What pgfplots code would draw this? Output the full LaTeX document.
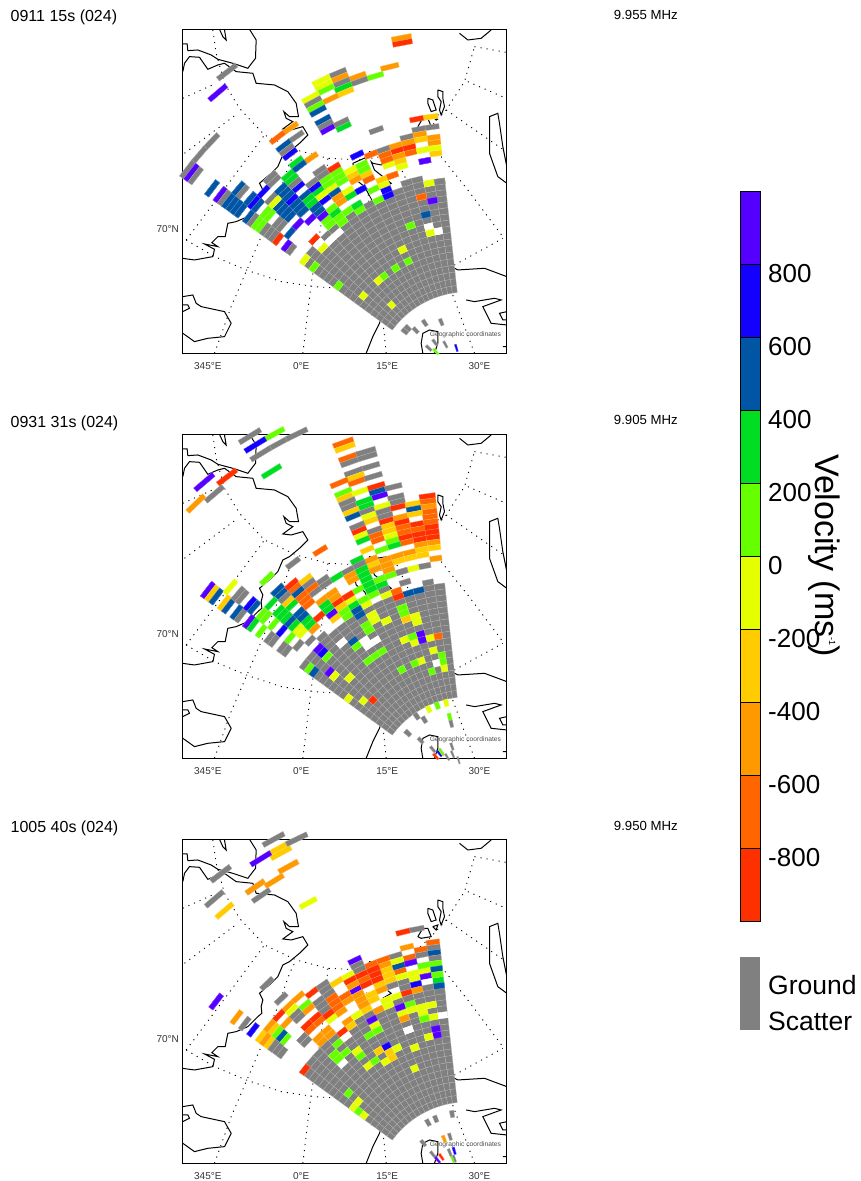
\documentclass[border=0pt]{standalone}
\usepackage{fontspec}
\setmainfont{Liberation Sans}
\usepackage{pgfplots}
\usepackage{pgfplotstable}
\pgfplotsset{compat=1.18}
\pgfdeclareplotmark{cell}{%
  \pgftransformshift{\pgfpoint{\celldx pt}{\celldy pt}}%
  \pgftransformrotate{\cellang}%
  \pgfsetlinewidth{0.25pt}%
  \pgfpathmoveto{\pgfpoint{-\cellwa pt}{-\cellh pt}}%
  \pgfpathlineto{\pgfpoint{\cellwa pt}{-\cellh pt}}%
  \pgfpathlineto{\pgfpoint{\cellwb pt}{\cellh pt}}%
  \pgfpathlineto{\pgfpoint{-\cellwb pt}{\cellh pt}}%
  \pgfpathclose
  \pgfusepath{fill,stroke}}
\pgfplotsset{
  colormap={sd}{rgb255=(255,48,0) rgb255=(255,102,0) rgb255=(255,153,0) rgb255=(255,204,0)
    rgb255=(229,255,0) rgb255=(102,255,0) rgb255=(0,221,34) rgb255=(0,85,165)
    rgb255=(20,0,255) rgb255=(85,0,255) rgb255=(128,128,128) rgb255=(255,255,255)},
  cells/.style={scatter, only marks, mark=cell, point meta={\thisrow{v}},
    point meta min=-9, point meta max=13,
    visualization depends on={x \as \cx},
    visualization depends on={y \as \cy},
    scatter/use mapped color={fill=mapped color, draw=mapped color!60!white},
    scatter/@pre marker code/.append code={%
      \pgfmathsetmacro\Rr{veclen(879-\cx,1095-\cy)}%
      \pgfmathsetmacro\Th{atan2(879-\cx,1095-\cy)}%
      \pgfmathsetmacro\Gi{ifthenelse(\Rr<781,floor((21-sqrt(441-0.4*(\Rr-279)))/0.2),floor(27.5+(\Rr-781)/15.5))+0.5}%
      \pgfmathsetmacro\Rc{ifthenelse(\Gi<27.5,279+21*\Gi-0.1*\Gi*\Gi,781+15.5*(\Gi-27.5))}%
      \pgfmathsetmacro\cellang{53.9-2.975*(round((53.9-\Th)/2.975-0.5)+0.5)}%
      \pgfmathsetmacro\celldx{(879-\Rc*sin(\cellang)-\cx)/3}%
      \pgfmathsetmacro\celldy{(\cy-1095+\Rc*cos(\cellang))/3}%
      \pgfmathsetmacro\cellh{max(21-0.2*\Gi,15.5)/6}%
      \pgfmathsetmacro\wf{0.02596*(1+max(\Rc-700,0)/3500)}%
      \pgfmathsetmacro\cellwa{\wf*(\Rc-3*\cellh)/3}%
      \pgfmathsetmacro\cellwb{\wf*(\Rc+3*\cellh)/3}}},
  plain/.style={point meta=none, scatter=false, no marks, sharp plot},
  band/.style={plain, draw=black, line width=0.8pt},
  panel/.style={scale only axis, width=324pt, height=324pt, anchor=south west,
    xmin=24, xmax=996, ymin=28, ymax=1000, y dir=reverse,
    xtick={100,380,638,915}, xticklabels={345°E,0°E,15°E,30°E},
    ytick={624}, yticklabels={70°N}, major tick length=0pt,
    tick label style={font=\fontsize{10}{11}\selectfont, text=black!80},
    xticklabel style={yshift=-6pt}, yticklabel style={yshift=-1pt},
    axis line style={line width=0.9pt, black}, unbounded coords=jump},
}
\pgfplotstableread{
g v
0 11
1 11
2 11
3 11
4 11
5 11
6 11
7 11
8 11
9 11
10 11
11 11
12 11
13 11
14 11
15 11
16 11
17 11
}\gates
\pgfplotstableread{
x y
25 72
38 72
40 92
70 90
110 105
130 118
175 130
220 145
243 115
245 60
225 28
nan nan
25 155
30 130
45 110
75 112
100 148
130 135
150 130
185 155
235 160
245 190
300 195
340 215
365 250
372 290
345 290
328 275
335 295
355 305
325 327
350 330
385 320
400 345
375 370
345 395
325 405
310 440
290 460
255 490
265 510
260 530
262 550
250 560
220 590
185 605
160 610
152 650
130 650
112 668
130 680
90 672
120 688
115 710
60 720
23 715
nan nan
135 28
145 50
155 60
150 30
nan nan
855 40
880 60
920 55
950 30
nan nan
997 440
985 380
975 310
970 280
945 290
945 350
945 400
970 470
997 490
nan nan
760 235
775 240
785 270
770 275
760 250
760 235
nan nan
790 210
805 215
805 235
810 260
800 285
795 270
800 245
790 230
790 210
nan nan
775 290
790 285
785 300
775 290
nan nan
730 320
745 295
760 295
770 320
740 325
730 320
nan nan
535 430
580 410
585 395
605 400
640 395
640 420
620 435
595 430
590 425
600 450
625 470
650 490
625 505
640 520
620 530
595 545
570 500
545 480
535 430
nan nan
25 830
55 825
65 850
80 860
150 875
170 910
150 950
100 955
60 965
25 940
nan nan
25 855
40 855
45 865
25 875
nan nan
590 885
630 855
605 855
625 830
645 825
655 790
695 760
710 745
730 745
740 725
755 735
770 720
810 720
800 745
830 740
850 750
930 745
997 770
nan nan
630 860
615 910
595 950
575 1000
nan nan
875 840
900 845
960 835
980 840
925 860
950 910
997 915
nan nan
997 875
975 880
985 900
997 900
nan nan
745 1000
740 970
745 940
765 930
790 935
790 970
780 1000
nan nan
985 980
997 980
}\coast
\pgfplotstableread{
x y
115 30
125 100
150 190
195 265
270 345
365 390
460 415
560 420
650 405
700 385
770 320
815 270
870 185
900 80
nan nan
35 660
120 710
215 750
320 785
420 800
520 807
620 795
720 770
840 735
985 655
nan nan
25 235
125 190
nan nan
30 400
190 280
nan nan
35 660
155 500
270 345
nan nan
120 1000
170 860
260 650
310 530
345 430
365 390
nan nan
385 1000
410 790
430 680
450 540
460 415
nan nan
635 1000
625 900
590 640
580 510
565 420
nan nan
900 1000
840 840
770 640
710 510
660 405
nan nan
800 410
880 510
985 650
nan nan
815 270
995 395
nan nan
880 185
995 235
nan nan
900 80
995 97
}\grat
% ---------- panel 1
\pgfplotstableread{
x y v
685 48 -5
687 62 -9
647 136 -5
600 162 1
548 168 -5
552 182 11
487 155 11
490 172 -5
493 187 11
503 200 3
440 182 -1
445 197 -1
450 212 1
508 213 -3
463 233 -5
405 228 -1
415 243 11
422 258 1
428 272 5
445 297 5
450 312 11
458 327 9
503 305 11
505 320 3
605 330 11
345 322 -5
305 350 -7
368 350 11
325 375 5
330 392 11
345 402 7
365 427 3
372 438 5
405 412 -5
340 465 3
350 478 11
358 490 5
335 505 5
290 475 11
155 163 11
120 217 9
105 365 11
70 402 11
27 452 11
42 462 9
58 478 11
110 505 5
190 505 5
205 510 11
547 405 7
475 442 -9
440 455 11
430 475 11
740 332 11
775 322 11
727 298 -9
765 292 -3
697 352 11
738 350 -5
775 345 -5
778 368 -5
780 385 -1
742 365 -3
742 385 -3
703 362 -5
705 382 -9
708 398 -7
665 380 -5
672 397 -9
676 412 -5
680 425 -3
632 390 11
640 415 -9
640 435 -1
600 407 -7
625 405 -3
650 463 -7
750 422 9
690 485 11
730 475 11
730 492 11
762 483 -1
795 478 11
}\Pau
\pgfplotstableread{
x y v
60 10 7
35 10 11
122 22 -5
75 40 3
90 50 5
55 75 3
65 90 11
25 125 5
45 140 5
30 165 5
50 180 5
40 200 5
70 170 5
85 190 5
95 145 5
110 165 3
125 180 5
75 125 7
190 52 -9
160 65 11
200 70 1
180 100 1
210 90 1
235 65 -1
265 50 1
240 75 -3
260 90 -3
295 78 -3
300 95 -7
325 90 -3
345 100 -1
365 72 -7
390 45 -1
400 22 -5
360 20 -7
330 15 -7
305 15 -7
260 15 7
465 32 9
495 5 -3
455 5 -1
410 95 11
445 100 11
477 93 -1
510 88 11
455 147 -7
488 155 9
467 193 5
420 222 1
475 225 13
505 235 13
483 255 -1
400 302 -1
412 330 1
375 350 1
340 375 1
325 385 -1
352 128 7
330 158 1
325 140 13
265 118 7
240 132 3
255 160 3
225 180 1
200 195 3
200 140 -7
210 153 -5
190 128 5
182 112 -1
165 125 5
150 125 3
135 112 7
125 145 3
180 172 1
185 220 1
210 218 1
240 190 1
275 170 1
205 255 13
180 265 13
160 280 13
150 297 -1
100 325 -1
140 275 -9
140 355 1
100 160 7
120 207 9
85 222 9
50 285 9
25 265 -9
60 295 11
15 245 11
0 160 -1
65 150 7
160 170 9
145 190 5
}\Pam
\pgfplotstableread{
x y v
740 27 -7
772 37 9
752 73 5
705 103 1
762 102 13
790 115 13
767 135 -1
683 180 -1
698 210 1
660 232 1
625 255 1
607 270 -1
487 285 1
563 317 -1
650 345 -1
450 178 -1
425 155 -9
385 205 -1
425 235 1
700 407 11
683 425 11
750 403 11
720 425 11
800 408 11
760 475 11
790 465 11
815 470 11
845 475 7
785 483 1
100 10 5
125 25 9
145 15 11
165 40 5
185 55 5
150 35 11
200 70 5
230 55 5
215 30 7
195 10 11
175 5 5
245 25 7
280 75 1
255 100 1
240 115 1
300 40 -1
270 60 11
240 90 11
325 70 5
345 90 5
370 70 5
385 55 5
400 35 3
420 55 5
350 30 7
370 100 9
405 90 9
440 75 9
345 125 5
310 150 -9
337 168 9
350 180 11
285 130 11
300 150 11
320 95 11
425 10 3
450 30 7
465 0 -1
490 20 -7
495 30 -5
527 15 3
545 40 3
480 55 1
515 60 1
485 75 3
510 95 1
465 110 1
490 125 11
470 85 1
455 70 3
445 85 1
600 5 1
615 37 1
637 10 7
}\Pal
\pgfplotstableread{
x y v
47 88 5
80 95 11
68 115 9
87 125 11
125 90 5
145 100 11
110 115 5
130 125 5
150 135 5
165 118 7
185 105 5
210 92 7
100 140 5
120 145 5
140 160 5
155 180 5
170 150 5
180 140 7
205 125 5
225 110 11
190 170 11
225 135 1
210 160 1
190 195 1
205 180 1
237 130 -1
215 205 1
210 215 11
240 230 11
235 195 11
255 195 11
252 240 -9
275 257 9
288 268 11
285 220 5
310 190 9
345 178 9
380 165 9
260 90 5
275 105 5
290 120 7
310 130 5
265 150 5
280 165 5
300 150 5
320 160 5
335 145 5
350 130 3
365 150 5
370 110 3
360 80 7
385 120 7
420 108 5
392 90 -1
420 65 1
430 122 -5
410 145 1
425 165 3
440 175 1
410 195 1
445 190 1
465 150 1
480 130 3
465 105 3
450 155 1
420 25 -9
400 45 1
435 45 1
430 70 1
375 35 11
345 65 11
380 55 11
455 35 -1
310 20 5
290 50 3
295 65 11
255 55 11
230 50 11
365 245 -9
390 268 -1
325 295 -1
365 320 1
435 225 13
410 240 13
385 250 13
495 85 7
480 60 -5
465 85 -1
520 15 1
500 30 1
}\Pax
% ---------- panel 2
\pgfplotstableread{
x y v
225 40 11
300 35 1
243 65 7
310 50 11
365 35 11
255 85 11
285 135 3
505 47 -7
510 63 -3
523 92 -7
575 75 11
530 107 11
578 88 11
585 120 11
535 135 11
543 155 -3
550 165 -7
597 150 11
490 170 -7
505 200 1
510 215 -3
560 195 -1
605 182 -9
612 197 5
615 212 9
658 183 11
665 215 11
670 230 11
517 235 11
520 243 11
567 225 3
572 240 3
530 262 -3
535 275 5
580 257 11
585 272 -1
590 287 -3
625 245 -1
630 260 11
635 272 11
637 288 -9
640 303 -3
670 245 -9
717 237 -3
720 252 5
760 217 -9
763 235 -7
765 250 -5
766 265 -7
680 275 -5
722 270 -3
685 292 -9
725 290 -9
768 282 -7
770 298 -7
545 303 11
552 318 -9
557 335 -1
565 347 3
600 317 11
605 335 -7
610 352 -7
645 318 -3
648 335 -1
652 350 1
690 310 -7
692 327 -7
695 343 -9
730 310 -7
732 327 -9
735 340 -9
772 312 -9
774 327 -9
776 340 -9
778 355 -5
735 358 -5
700 358 -7
660 368 3
615 375 1
575 375 -3
780 372 -3
783 393 -5
740 378 -3
745 395 -3
702 380 -5
707 400 -3
665 390 -5
668 408 -3
715 425 -1
680 440 11
750 422 11
630 400 -5
630 425 -3
640 450 -1
590 415 -3
600 400 -5
545 405 3
550 425 5
565 440 3
570 460 3
590 440 3
610 460 5
620 465 11
545 422 11
515 437 11
485 458 3
520 455 1
530 475 -5
435 378 -7
352 413 11
275 463 1
760 470 11
730 490 5
695 465 11
665 503 -7
700 510 5
765 500 11
590 480 1
560 490 1
610 490 3
640 495 11
445 465 11
395 465 -3
400 480 11
350 475 -9
355 490 -7
415 490 -7
330 500 5
370 500 5
310 495 11
290 505 11
425 500 11
470 500 -7
97 490 9
110 500 -3
130 505 5
160 488 -1
192 500 11
85 180 9
157 165 -9
110 205 11
62 248 -5
}\Pbu
\pgfplotstableread{
x y v
90 5 9
100 15 -3
125 15 5
145 30 -3
165 40 5
185 55 5
170 15 11
190 10 13
225 25 9
240 35 5
205 60 11
220 85 9
235 95 3
260 105 1
265 65 1
285 30 3
300 15 13
275 75 11
300 95 1
320 105 7
345 125 1
330 75 3
345 55 3
350 35 3
365 60 5
380 55 5
395 80 3
375 100 -1
415 100 -5
435 70 -9
460 40 3
470 55 9
490 60 -3
455 25 -5
510 60 1
525 25 -1
550 55 5
400 15 -7
390 5 -7
420 20 -7
490 20 -9
500 35 -7
475 10 -5
535 25 3
575 25 -1
600 5 -1
597 65 -1
600 80 1
635 80 -1
578 100 1
680 35 1
690 75 13
695 72 -3
720 65 -5
725 80 -1
688 128 -1
715 135 -1
740 125 -1
735 112 9
743 142 9
767 135 -9
765 120 -1
790 115 -7
775 168 -1
800 180 1
803 195 1
782 197 13
738 195 -1
715 203 1
678 220 1
775 220 1
800 215 -1
627 177 1
585 205 1
545 153 1
535 140 5
505 148 13
570 160 13
595 140 13
437 167 9
460 190 1
465 233 9
478 243 -1
520 245 -1
398 215 1
410 228 5
527 315 -1
563 317 -1
590 312 -9
368 150 11
340 170 11
315 155 11
300 140 11
385 205 11
410 140 11
445 125 11
757 345 -1
785 330 1
810 322 -1
725 365 11
752 375 11
695 405 11
703 425 11
740 432 11
775 465 11
828 368 1
832 385 11
833 450 11
800 465 5
795 470 7
800 475 -9
785 490 -9
808 478 1
815 480 11
840 487 11
850 485 11
}\Pbl
\pgfplotstableread{
x y v
33 95 9
50 105 -3
65 120 5
85 130 -3
100 145 5
120 160 5
107 85 -1
130 100 11
150 115 11
135 165 11
165 130 7
180 140 5
165 150 5
160 190 9
175 200 3
190 225 1
205 175 1
215 60 1
228 135 3
240 195 1
255 210 1
260 215 7
285 235 1
310 255 11
315 215 -1
270 185 3
250 165 3
265 165 3
285 150 3
300 130 3
310 165 5
325 165 5
340 190 3
355 205 -5
290 185 5
300 195 3
275 125 -3
250 95 5
265 110 11
290 75 -9
310 100 5
325 115 -7
340 130 -7
335 60 -3
350 85 -7
385 125 -5
370 170 -9
395 135 3
410 160 9
395 150 3
430 130 -9
415 105 -5
435 105 -5
455 120 -5
465 110 -9
425 55 3
460 45 -5
395 75 11
355 70 11
450 140 -3
455 160 1
495 125 -1
490 155 5
420 95 -5
510 120 1
550 105 1
575 105 -1
607 105 -9
622 135 1
620 155 1
635 180 -3
660 170 -1
505 200 1
525 215 1
540 170 -1
535 185 -1
575 185 -1
475 245 5
490 260 1
380 272 7
403 295 1
535 282 1
525 310 1
625 232 -1
650 240 1
620 325 1
345 322 1
350 335 5
405 340 9
420 345 -1
460 350 -1
445 255 13
510 250 13
215 235 11
235 250 11
255 265 11
275 280 11
290 10 11
505 50 3
520 70 3
525 90 3
490 30 3
540 60 5
550 75 3
570 30 -5
590 10 -5
545 20 -5
570 60 1
600 35 1
625 35 11
}\Pbx
% ---------- panel 3
\pgfplotstableread{
x y v
298 35 11
308 55 -3
315 70 -3
365 35 11
258 95 9
130 135 11
120 150 11
240 170 11
235 185 -5
250 198 11
345 110 -5
320 125 -5
280 155 -5
108 207 11
140 243 -3
397 217 -1
685 310 -9
727 300 11
777 340 -7
697 355 -5
740 362 -7
778 355 11
703 382 -7
745 380 11
790 372 5
790 388 11
790 403 1
790 420 3
790 435 1
790 450 3
790 465 5
790 480 11
790 495 11
750 408 3
750 425 -1
750 440 9
750 457 -1
750 470 9
750 487 11
715 400 9
715 425 -1
715 440 -1
715 460 7
715 475 -5
715 490 11
715 505 -1
680 395 -1
680 408 5
680 425 -7
680 440 1
680 460 11
680 485 -9
680 497 -1
665 378 11
640 385 -7
640 405 -5
640 425 -3
640 445 -3
640 465 13
640 480 -1
640 505 -1
600 395 -7
600 420 -9
600 440 -9
600 470 -3
600 490 -1
540 393 9
545 407 11
560 420 11
560 435 -9
560 450 -9
560 460 -7
560 475 9
560 490 11
525 460 -9
525 475 -7
525 500 -3
490 455 -3
510 440 -1
445 475 11
455 490 11
410 490 -9
370 500 -5
320 503 11
275 465 11
128 505 9
480 505 -7
}\Pcu
\pgfplotstableread{
x y v
118 15 9
185 57 -5
210 75 11
233 95 7
310 3 11
355 10 -5
390 15 1
430 8 11
405 35 -5
350 32 -1
367 40 13
312 50 -9
335 65 -5
285 80 -1
300 93 -5
260 125 -1
275 135 -3
320 100 1
315 110 1
320 117 5
335 122 1
350 135 13
300 145 11
325 165 11
395 125 11
380 105 13
365 70 11
375 50 11
395 75 -9
420 55 -9
410 85 -7
455 45 -9
450 105 -5
430 125 -5
470 55 -1
490 70 13
460 20 11
480 15 -5
500 30 -5
515 60 -5
527 78 -3
545 45 -3
575 35 -5
520 10 -5
550 15 -9
600 30 -5
590 5 -3
595 65 9
600 80 -1
605 95 1
585 105 1
505 105 -9
515 118 13
495 135 1
480 155 1
475 170 1
515 160 -1
503 192 13
555 167 1
580 200 -1
597 178 1
610 155 -1
633 137 7
640 155 -3
650 170 -3
630 185 -1
665 150 1
715 135 -1
717 205 -1
700 90 13
690 60 -5
680 45 -1
710 20 1
705 35 -1
745 30 -1
750 60 1
775 52 -1
672 15 9
635 10 -1
768 7 -1
780 85 9
785 100 9
760 105 -1
385 207 -9
515 275 1
550 310 -1
540 325 -1
550 337 1
565 345 -1
755 370 11
783 367 11
825 335 11
820 405 11
815 425 -5
740 430 11
780 465 11
800 465 -9
790 478 9
828 470 1
840 460 7
845 485 11
820 450 11
830 460 11
}\Pcl
\pgfplotstableread{
x y v
15 215 7
35 240 -3
50 225 -3
65 205 -3
85 170 -9
75 190 -5
100 190 -5
60 230 -5
90 225 1
75 220 1
95 235 5
110 235 1
125 170 11
130 150 -1
150 115 -5
165 135 1
180 155 -5
175 190 -9
195 170 -9
205 185 -7
185 110 -9
215 90 11
240 70 11
260 65 -3
245 125 -7
265 145 -7
245 180 -1
235 165 -9
215 140 11
155 245 11
90 270 11
100 285 11
70 255 11
125 250 13
150 215 13
240 230 -5
215 245 -5
285 225 -9
290 240 13
240 260 11
250 280 1
260 290 1
280 110 -7
300 100 -7
265 125 -7
285 145 -5
300 65 -9
320 75 -5
335 95 -5
300 125 -5
320 160 -3
340 150 -3
355 135 -5
340 125 -5
355 100 -3
325 45 -1
355 40 -9
370 35 -9
385 55 -9
365 65 -9
385 90 -5
405 130 -1
420 125 -1
420 40 -3
440 20 -3
455 45 -1
450 20 5
445 5 -1
480 10 9
490 35 -1
470 95 -9
445 135 9
480 135 1
520 20 1
565 30 5
530 50 9
570 45 1
530 65 13
495 70 7
565 75 5
500 90 -5
465 55 -1
510 148 -1
480 155 -1
465 180 -5
520 180 1
545 130 -1
555 205 9
557 218 9
535 225 -1
580 170 13
475 208 13
370 185 9
380 205 -1
385 220 1
407 258 7
400 270 -3
420 280 -3
440 262 1
435 270 -1
490 255 -1
315 285 -1
285 275 1
330 165 -1
255 300 1
440 70 11
465 75 11
520 85 11
545 90 11
490 115 11
}\Pcx
\newcommand{\basefan}{%
  \pgfplotsinvokeforeach{0,1,...,15}{%
    \addplot[cells] table[x expr={879-(279+21*(\thisrow{g}+0.5)-0.1*(\thisrow{g}+0.5)*(\thisrow{g}+0.5))*sin(53.9-2.975*(##1+0.5))},
      y expr={1095-(279+21*(\thisrow{g}+0.5)-0.1*(\thisrow{g}+0.5)*(\thisrow{g}+0.5))*cos(53.9-2.975*(##1+0.5))}] {\gates};
  }}
\newcommand{\mapover}{%
  \addplot[plain, black, dash pattern=on 1.1pt off 5pt, line width=0.9pt] table[x=x,y=y] {\grat};
  \addplot[plain, black, line width=1pt] table[x=x,y=y] {\coast};}
\newcommand{\geo}{\node[anchor=east, font=\fontsize{6.7}{7}\selectfont, text=black!70] at (axis cs:990,943) {Geographic coordinates};}
\begin{document}
\begin{tikzpicture}[x=1pt,y=1pt]
\path[use as bounding box] (0,0) rectangle (860,1181);
% panel 1
\begin{axis}[panel, at={(182.5pt,827.7pt)}]
\basefan
\addplot[cells] table[x=x, y=y] {\Pau};
\addplot[cells] table[x expr={\thisrow{x}+285}, y expr={\thisrow{y}+390}] {\Pam};
\addplot[cells] table[x=x, y expr={\thisrow{y}+510}] {\Pal};
\addplot[cells] table[x expr={\thisrow{x}+60}, y expr={\thisrow{y}+420}] {\Pax};
\mapover
\geo
\end{axis}
% panel 2
\begin{axis}[panel, at={(182.5pt,422.7pt)}]
\basefan
\addplot[cells] table[x=x, y=y] {\Pbu};
\addplot[cells] table[x=x, y expr={\thisrow{y}+510}] {\Pbl};
\addplot[cells] table[x expr={\thisrow{x}+60}, y expr={\thisrow{y}+405}] {\Pbx};
\mapover
\geo
\end{axis}
% panel 3
\begin{axis}[panel, at={(182.5pt,17.7pt)}]
\basefan
\addplot[cells] table[x=x, y=y] {\Pcu};
\addplot[cells] table[x=x, y expr={\thisrow{y}+510}] {\Pcl};
\addplot[cells] table[x expr={\thisrow{x}+225}, y expr={\thisrow{y}+390}] {\Pcx};
\mapover
\geo
\end{axis}
% colour bar
\begin{axis}[scale only axis, width=20pt, height=839pt, anchor=south west, at={(740pt,151pt)},
  xmin=0, xmax=1, ymin=-1298.6, ymax=1000, axis lines=none, clip=false,
  ymajorticks=false]
\addplot[band, fill={rgb,255:red,255;green,48;blue,0}] coordinates {(0,-1000)(1,-1000)(1,-800)(0,-800)} -- cycle;
\addplot[band, fill={rgb,255:red,255;green,102;blue,0}] coordinates {(0,-800)(1,-800)(1,-600)(0,-600)} -- cycle;
\addplot[band, fill={rgb,255:red,255;green,153;blue,0}] coordinates {(0,-600)(1,-600)(1,-400)(0,-400)} -- cycle;
\addplot[band, fill={rgb,255:red,255;green,204;blue,0}] coordinates {(0,-400)(1,-400)(1,-200)(0,-200)} -- cycle;
\addplot[band, fill={rgb,255:red,229;green,255;blue,0}] coordinates {(0,-200)(1,-200)(1,0)(0,0)} -- cycle;
\addplot[band, fill={rgb,255:red,102;green,255;blue,0}] coordinates {(0,0)(1,0)(1,200)(0,200)} -- cycle;
\addplot[band, fill={rgb,255:red,0;green,221;blue,34}] coordinates {(0,200)(1,200)(1,400)(0,400)} -- cycle;
\addplot[band, fill={rgb,255:red,0;green,85;blue,165}] coordinates {(0,400)(1,400)(1,600)(0,600)} -- cycle;
\addplot[band, fill={rgb,255:red,20;green,0;blue,255}] coordinates {(0,600)(1,600)(1,800)(0,800)} -- cycle;
\addplot[band, fill={rgb,255:red,85;green,0;blue,255}] coordinates {(0,800)(1,800)(1,1000)(0,1000)} -- cycle;
\addplot[plain, fill={rgb,255:red,128;green,128;blue,128}, draw=none] coordinates {(0,-1298.6)(1,-1298.6)(1,-1098.6)(0,-1098.6)} -- cycle;
\end{axis}
\foreach \t/\y in {800/264,600/337,400/410,200/483,0/556,-200/629,-400/702,-600/775,-800/848}
  \node[anchor=west, inner sep=0pt, font=\fontsize{26}{28}\selectfont] at (768,1181-\y-10) {\t};
\node[rotate=-90, anchor=base, inner sep=0pt, font=\fontsize{34}{36}\selectfont] at (815,1181-555.5) {Velocity (ms\raisebox{14pt}{\fontsize{9}{9}\selectfont -1})};
\node[anchor=west, inner sep=0pt, font=\fontsize{26.5}{28}\selectfont] at (768,1181-985) {Ground};
\node[anchor=west, inner sep=0pt, font=\fontsize{26.5}{28}\selectfont] at (768,1181-1021) {Scatter};
% titles
\foreach \a/\b/\y/\z in {0911 15s (024)/9.955 MHz/21.6/19.5,0931 31s (024)/9.905 MHz/427.6/425,1005 40s (024)/9.950 MHz/832.6/831}{
  \node[anchor=base west, inner sep=0pt, font=\fontsize{16}{18}\selectfont] at (10.5,1181-\y) {\a};
  \node[anchor=base east, inner sep=0pt, font=\fontsize{13.2}{15}\selectfont] at (678,1181-\z) {\b};
}
\end{tikzpicture}
\end{document}
